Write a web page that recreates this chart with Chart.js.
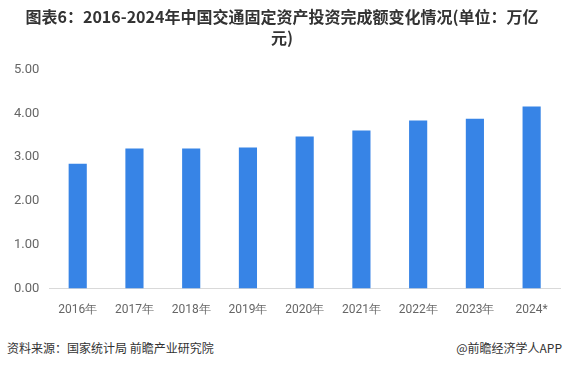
<!DOCTYPE html>
<html>
<head>
<meta charset="utf-8">
<script src="https://cdn.jsdelivr.net/npm/chart.js@4"></script>
<style>
  html, body { margin: 0; padding: 0; background: #fff; }
  #wrap { position: relative; width: 566px; height: 368px; font-family: "Noto Sans CJK SC", "Noto Sans", sans-serif; }
  #box { position: absolute; left: 0; top: 0; width: 566px; height: 331px; }
  .foot { position: absolute; top: 339px; font-size: 12px; color: #333; }
</style>
</head>
<body>
<div id="wrap">
  <div id="box"><canvas id="investChart"></canvas></div>
  <div class="foot" style="left:7px;">资料来源：国家统计局 前瞻产业研究院</div>
  <div class="foot" style="right:4px;">@前瞻经济学人APP</div>
</div>
<script>
// 数据
const years = ['2016年', '2017年', '2018年', '2019年', '2020年', '2021年', '2022年', '2023年', '2024*'];
const investValues = [2.85, 3.20, 3.20, 3.22, 3.47, 3.61, 3.84, 3.88, 4.16];
const titleLines = ['图表6：2016-2024年中国交通固定资产投资完成额变化情况(单位：万亿', '元)'];

let ctx = document.getElementById('investChart');

let config = {
    type: 'bar',
    data: {
        labels: years,
        datasets: [{
            label: '交通固定资产投资完成额',
            data: investValues,
            backgroundColor: '#3784e6',
            barPercentage: 0.32,
            categoryPercentage: 1
        }]
    },
    options: {
        responsive: true,
        maintainAspectRatio: false,
        animation: false,
        layout: { padding: { left: 4, right: 6, top: 0, bottom: 0 } },
        plugins: {
            legend: { display: false },
            tooltip: { enabled: false },
            title: {
                display: true,
                text: titleLines,
                color: '#333',
                font: { family: '"Noto Sans CJK SC", sans-serif', size: 16, weight: 'bold', lineHeight: 1.3 },
                padding: { top: 7, bottom: 21 }
            }
        },
        scales: {
            x: {
                grid: { display: false, drawTicks: false },
                border: { color: '#d9d9d9' },
                ticks: { color: '#666', font: { family: 'Roboto, sans-serif', size: 12 }, padding: 14 }
            },
            y: {
                min: 0,
                max: 5,
                grid: { display: false, drawTicks: false },
                border: { display: false },
                ticks: {
                    stepSize: 1,
                    color: '#666',
                    padding: 10,
                    font: { family: 'Roboto, sans-serif', size: 13 },
                    callback: (v) => v.toFixed(2)
                }
            }
        }
    }
};

new Chart(ctx, config);
</script>
</body>
</html>
